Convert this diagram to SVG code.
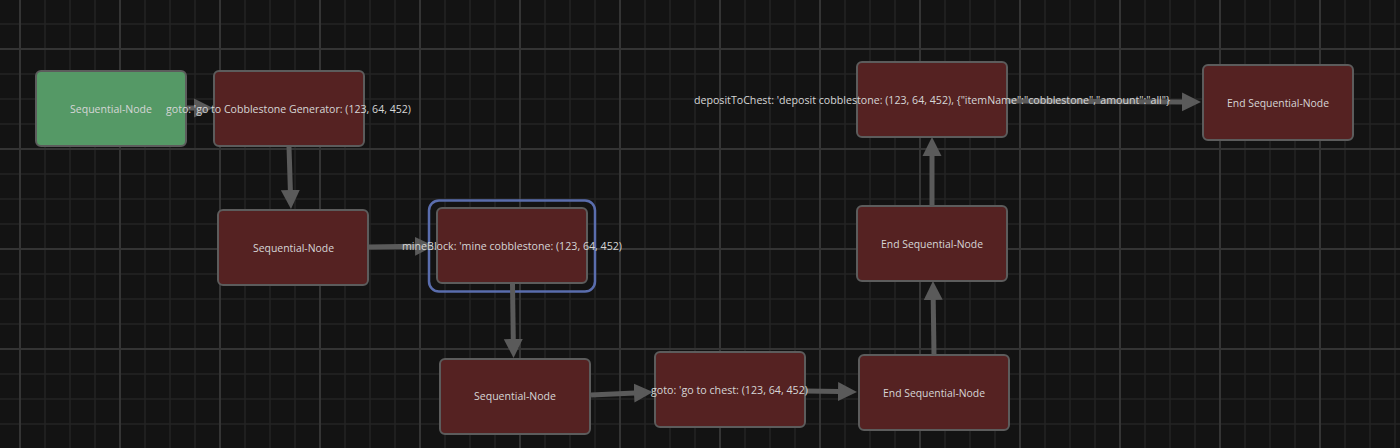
<svg xmlns="http://www.w3.org/2000/svg" width="1400" height="448" viewBox="0 0 1400 448">
<defs>
<style>
.bg{fill:#131313}
.minor{stroke:#252525;stroke-width:1.5}
.major{stroke:#343434;stroke-width:2}
.node rect.box{stroke:#5c5c5c;stroke-width:2}
.seq{fill:#559966}
.act{fill:#552222}
.sel{fill:none;stroke:#5a6dad;stroke-width:2.5}
.edge{stroke:#5a5a5a;stroke-width:5;fill:none;marker-end:url(#arrow)}
text{font-family:"Open Sans","Noto Sans","DejaVu Sans",sans-serif;font-size:11px;fill:#d6d6d6;text-anchor:middle;dominant-baseline:central}
</style>
<marker id="arrow" markerUnits="userSpaceOnUse" markerWidth="20" markerHeight="20" viewBox="0 -10 20 20" refX="1" refY="0" orient="auto">
<path d="M0,-9.5 L19,0 L0,9.5 Z" fill="#5a5a5a"/>
</marker>
</defs>
<rect class="bg" x="0" y="0" width="1400" height="448"/>
<g id="grid">
<path class="minor" d="M-5,0V448M45,0V448M70,0V448M95,0V448M145,0V448M170,0V448M195,0V448M245,0V448M270,0V448M295,0V448M345,0V448M370,0V448M395,0V448M445,0V448M470,0V448M495,0V448M545,0V448M570,0V448M595,0V448M645,0V448M670,0V448M695,0V448M745,0V448M770,0V448M795,0V448M845,0V448M870,0V448M895,0V448M945,0V448M970,0V448M995,0V448M1045,0V448M1070,0V448M1095,0V448M1145,0V448M1170,0V448M1195,0V448M1245,0V448M1270,0V448M1295,0V448M1345,0V448M1370,0V448M1395,0V448"/>
<path class="minor" d="M0,24H1400M0,74H1400M0,99H1400M0,124H1400M0,174H1400M0,199H1400M0,224H1400M0,274H1400M0,299H1400M0,324H1400M0,374H1400M0,399H1400M0,424H1400"/>
<path class="major" d="M20,0V448M120,0V448M220,0V448M320,0V448M420,0V448M520,0V448M620,0V448M720,0V448M820,0V448M920,0V448M1020,0V448M1120,0V448M1220,0V448M1320,0V448"/>
<path class="major" d="M0,49H1400M0,149H1400M0,249H1400M0,349H1400"/>
</g>
<g id="nodes">
<g id="n1" class="node"><rect class="box seq" x="36" y="71" width="150" height="75" rx="5"/></g>
<g id="n2" class="node"><rect class="box act" x="214" y="71" width="150" height="75" rx="5"/></g>
<g id="n3" class="node"><rect class="box act" x="218" y="210" width="150" height="75" rx="5"/></g>
<g id="n4" class="node"><rect class="sel" x="429" y="200.5" width="166" height="91" rx="10"/><rect class="box act" x="437" y="208" width="150" height="75" rx="5"/></g>
<g id="n5" class="node"><rect class="box act" x="440" y="359" width="150" height="75" rx="5"/></g>
<g id="n6" class="node"><rect class="box act" x="655" y="352" width="150" height="75" rx="5"/></g>
<g id="n7" class="node"><rect class="box act" x="859" y="355" width="150" height="75" rx="5"/></g>
<g id="n8" class="node"><rect class="box act" x="857" y="206" width="150" height="75" rx="5"/></g>
<g id="n9" class="node"><rect class="box act" x="857" y="62" width="150" height="75" rx="5"/></g>
<g id="n10" class="node"><rect class="box act" x="1203" y="65" width="150" height="75" rx="5"/></g>
</g>
<g id="connectors">
<path class="edge" d="M186,108L195,108"/>
<path class="edge" d="M289,147L290.4,191"/>
<path class="edge" d="M369,247L416,246.3"/>
<path class="edge" d="M512.5,284L513.3,340"/>
<path class="edge" d="M591,395L635,392.9"/>
<path class="edge" d="M806,391L839,391.6"/>
<path class="edge" d="M934,355L933.2,299"/>
<path class="edge" d="M932,206L932,155"/>
<path class="edge" d="M1008,101L1183,101.9"/>
</g>
<g id="labels">
<text x="111" y="108" textLength="82" lengthAdjust="spacingAndGlyphs">Sequential-Node</text>
<text x="288.5" y="108" textLength="245" lengthAdjust="spacingAndGlyphs">goto: 'go to Cobblestone Generator: (123, 64, 452)</text>
<text x="293.5" y="247" textLength="81" lengthAdjust="spacingAndGlyphs">Sequential-Node</text>
<text x="512" y="245" textLength="220" lengthAdjust="spacingAndGlyphs">mineBlock: 'mine cobblestone: (123, 64, 452)</text>
<text x="515" y="395" textLength="82" lengthAdjust="spacingAndGlyphs">Sequential-Node</text>
<text x="729.5" y="389" textLength="157" lengthAdjust="spacingAndGlyphs">goto: 'go to chest: (123, 64, 452)</text>
<text x="934" y="392" textLength="102" lengthAdjust="spacingAndGlyphs">End Sequential-Node</text>
<text x="932" y="243" textLength="102" lengthAdjust="spacingAndGlyphs">End Sequential-Node</text>
<text x="932" y="99" textLength="476" lengthAdjust="spacingAndGlyphs">depositToChest: 'deposit cobblestone: (123, 64, 452), {"itemName":"cobblestone","amount":"all"}</text>
<text x="1278" y="102" textLength="102" lengthAdjust="spacingAndGlyphs">End Sequential-Node</text>
</g>
</svg>
